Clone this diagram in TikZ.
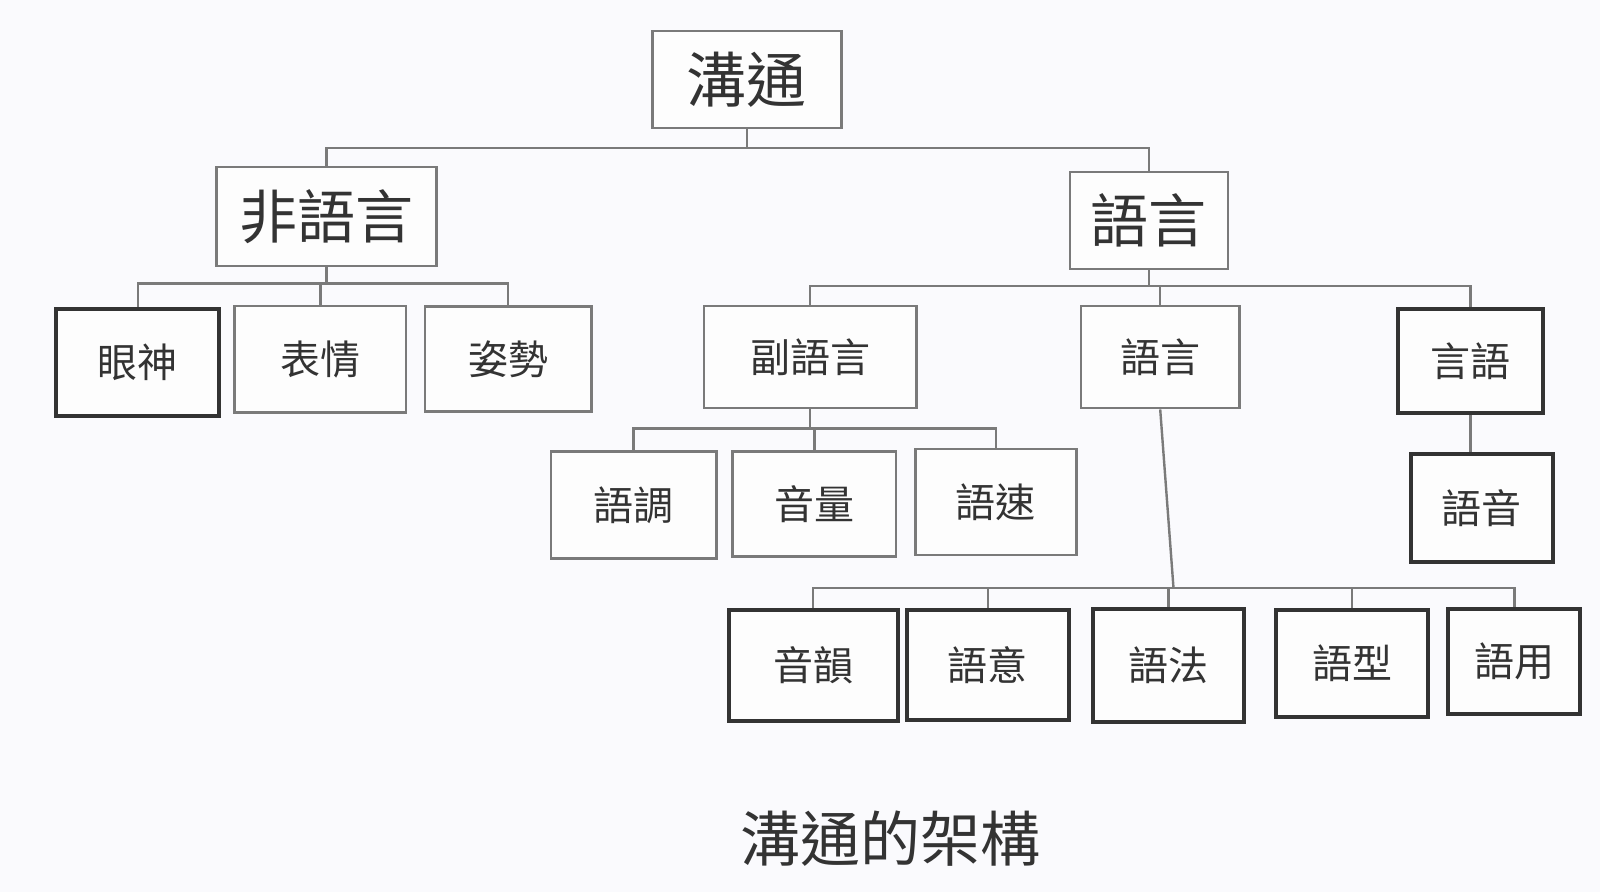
\documentclass[tikz,border=0pt]{standalone}
\usepackage{fontspec}
\setmainfont{Noto Sans CJK TC}
\definecolor{bg}{HTML}{FAFAFD}
\definecolor{ln}{HTML}{7A7A7A}
\definecolor{bx}{HTML}{FDFDFD}
\begin{document}
\begin{tikzpicture}[x=0.5102pt,y=-0.5102pt,
 box/.style={draw=ln,line width=1.3pt,fill=bx,inner sep=0pt,text=black!80},
 tbox/.style={box,draw=black!80,line width=2pt},
 conn/.style={draw=ln,line width=1.2pt}]
\fill[bg] (0,0) rectangle (1568,874);
\useasboundingbox (0,0) rectangle (1568,874);
\newcommand{\bx}[7][box]{\node[#1,minimum width=#4*0.5102pt,minimum height=#5*0.5102pt,font=\fontsize{#6}{#6}\selectfont] (#2) at #3 {#7};}
\bx{root}{(732,78)}{185}{95}{30}{溝通}
\bx{nl}{(320,212)}{216}{97}{29}{非語言}
\bx{l}{(1126,216)}{155}{95}{29}{語言}
\bx[tbox]{a1}{(135,355)}{160}{105}{20}{眼神}
\bx{a2}{(314,352)}{168}{104}{20}{表情}
\bx{a3}{(498,352)}{163}{103}{20}{姿勢}
\bx{b1}{(794,350)}{208}{100}{20}{副語言}
\bx{b2}{(1137,350)}{155}{100}{20}{語言}
\bx[tbox]{b3}{(1441,354)}{142}{102}{20}{言語}
\bx{c1}{(621,495)}{162}{105}{20}{語調}
\bx{c2}{(798,494)}{160}{103}{20}{音量}
\bx{c3}{(976,492)}{158}{104}{20}{語速}
\bx[tbox]{d1}{(1452,498)}{139}{106}{20}{語音}
\bx[tbox]{e1}{(797,652)}{166}{109}{20}{音韻}
\bx[tbox]{e2}{(968,652)}{159}{108}{20}{語意}
\bx[tbox]{e3}{(1145,652)}{148}{111}{20}{語法}
\bx[tbox]{e4}{(1325,650)}{149}{105}{20}{語型}
\bx[tbox]{e5}{(1484,648)}{129}{103}{20}{語用}
\node[font=\fontsize{30}{30}\selectfont,text=black!80] (title) at (873,822) {溝通的架構};
\coordinate (s0) at (0,145);
\coordinate (s1) at (0,278);
\coordinate (s2) at (0,280);
\coordinate (s3) at (0,420);
\coordinate (s4) at (0,576);
\foreach \c in {nl,l} \draw[conn] (root.south) -- (root.south |- s0) -| (\c.north);
\foreach \c in {a1,a2,a3} \draw[conn] (nl.south) -- (nl.south |- s1) -| (\c.north);
\foreach \c in {b1,b2,b3} \draw[conn] (l.south) -- (l.south |- s2) -| (\c.north);
\foreach \c in {c1,c2,c3} \draw[conn] (b1.south) -- (b1.south |- s3) -| (\c.north);
\draw[conn] (b3.south) -- (d1.north -| b3.south);
\coordinate (hub) at (1150,576);
\draw[conn] (b2.south) -- (hub);
\foreach \c in {e1,e2,e3,e4,e5} \draw[conn] (hub) -| (\c.north);
\end{tikzpicture}
\end{document}
